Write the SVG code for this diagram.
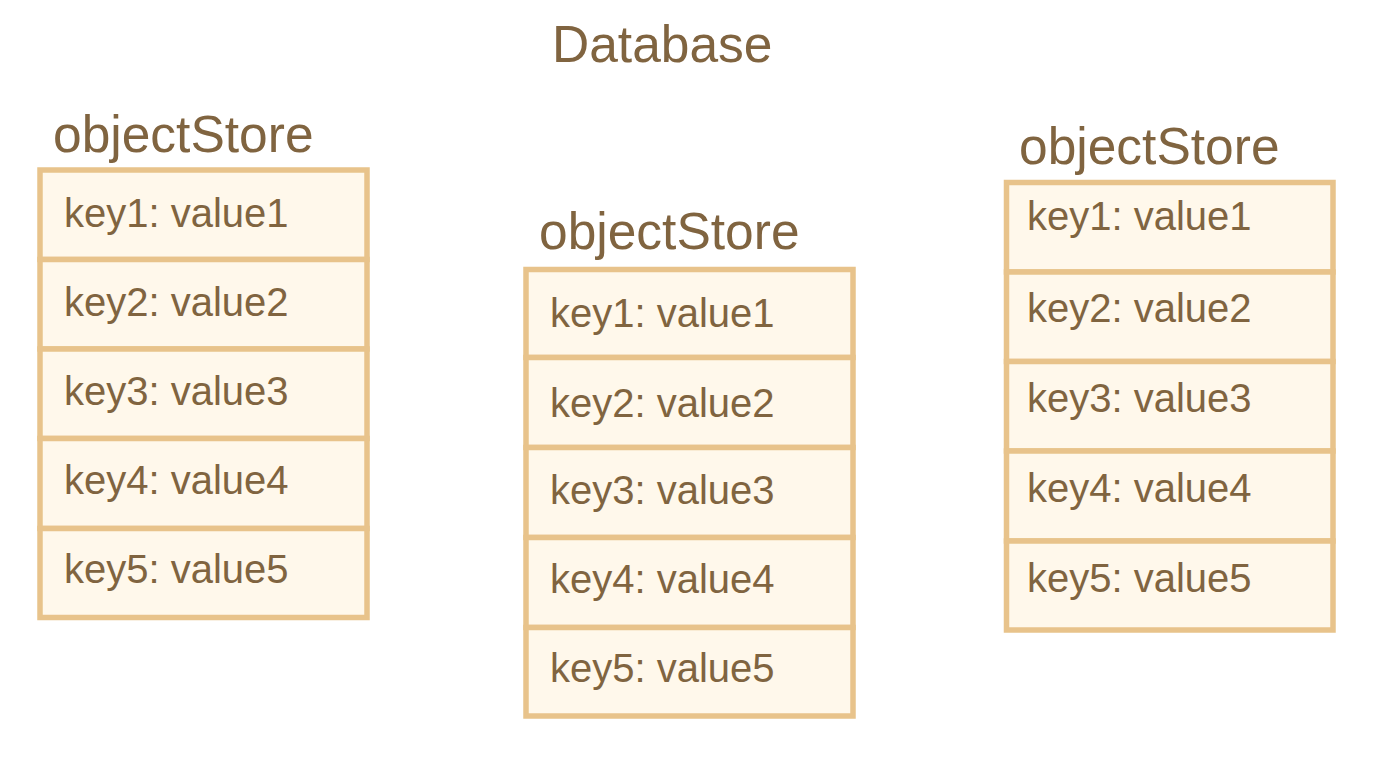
<svg xmlns="http://www.w3.org/2000/svg" width="1400" height="772" viewBox="0 0 1400 772">
<style>
.row{fill:#FFF8EB;stroke:#E8C38B;stroke-width:5.5}
.kv{font-family:"Liberation Sans",Arial,sans-serif;font-size:40px;fill:#806440}
.title{font-family:"Liberation Sans",Arial,sans-serif;font-size:51.5px;fill:#806440}
</style>
<rect x="0" y="0" width="1400" height="772" fill="#FFFFFF"/>
<g id="database">
<text class="title" x="552" y="62">Database</text>
</g>
<g id="store1">
<text class="title" x="53" y="152">objectStore</text>
<rect class="row" x="40" y="170" width="327" height="89.5"/>
<rect class="row" x="40" y="259.5" width="327" height="89.5"/>
<rect class="row" x="40" y="349" width="327" height="89.5"/>
<rect class="row" x="40" y="438.5" width="327" height="90"/>
<rect class="row" x="40" y="528.5" width="327" height="89"/>
<text class="kv" x="64" y="227">key1: value1</text>
<text class="kv" x="64" y="316">key2: value2</text>
<text class="kv" x="64" y="405">key3: value3</text>
<text class="kv" x="64" y="494">key4: value4</text>
<text class="kv" x="64" y="583">key5: value5</text>
</g>
<g id="store2">
<text class="title" x="539" y="249">objectStore</text>
<rect class="row" x="526" y="269.5" width="327" height="88"/>
<rect class="row" x="526" y="357.5" width="327" height="90"/>
<rect class="row" x="526" y="447.5" width="327" height="90"/>
<rect class="row" x="526" y="537.5" width="327" height="90"/>
<rect class="row" x="526" y="627.5" width="327" height="88.5"/>
<text class="kv" x="550" y="327">key1: value1</text>
<text class="kv" x="550" y="417">key2: value2</text>
<text class="kv" x="550" y="504">key3: value3</text>
<text class="kv" x="550" y="593">key4: value4</text>
<text class="kv" x="550" y="682">key5: value5</text>
</g>
<g id="store3">
<text class="title" x="1019" y="164">objectStore</text>
<rect class="row" x="1006.5" y="182.5" width="326.5" height="89.5"/>
<rect class="row" x="1006.5" y="272" width="326.5" height="89.5"/>
<rect class="row" x="1006.5" y="361.5" width="326.5" height="89.5"/>
<rect class="row" x="1006.5" y="451" width="326.5" height="90"/>
<rect class="row" x="1006.5" y="541" width="326.5" height="89"/>
<text class="kv" x="1027" y="230">key1: value1</text>
<text class="kv" x="1027" y="322">key2: value2</text>
<text class="kv" x="1027" y="412">key3: value3</text>
<text class="kv" x="1027" y="502">key4: value4</text>
<text class="kv" x="1027" y="592">key5: value5</text>
</g>
<g id="connectors"></g>
</svg>
